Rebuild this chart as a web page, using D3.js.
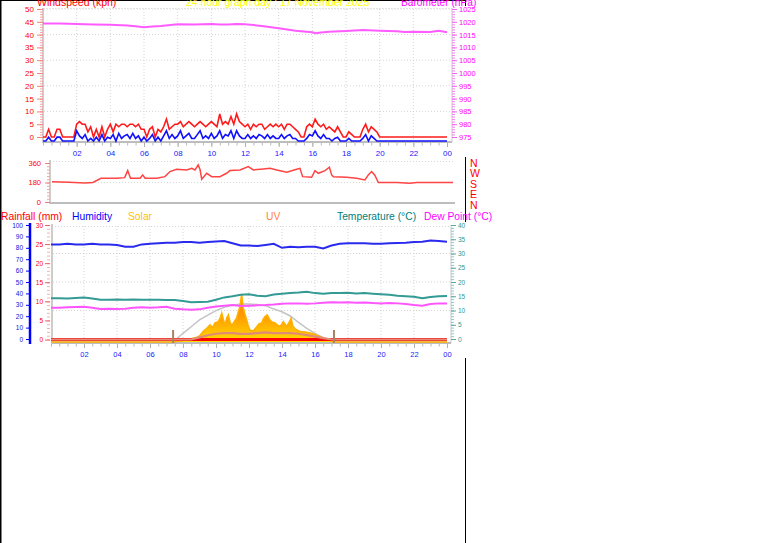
<!DOCTYPE html>
<html><head><meta charset="utf-8">
<script src="https://cdn.jsdelivr.net/npm/d3@7"></script>
<style>body{margin:0;background:#fff;} svg{display:block;font-family:"Liberation Sans",Arial,sans-serif;}</style>
</head><body><svg id="c" width="761" height="543"></svg>
<script>
// ---------- DATA ----------
const tickHours = [2,4,6,8,10,12,14,16,18,20,22,24];
const tickLabels = ["02","04","06","08","10","12","14","16","18","20","22","00"];

// wind gust (kph), 10-minute samples from 00:00 to 24:00
const gust = [
 0,0,3,0,0,3, 3,0,0,0,0,0, 5,6,5,5,2,4, 0,3,0,4,0,3, 5,2,5,4,5,5, 4,5,5,4,5,3,
 3,0,3,4,0,3, 2,4,7,3,4,5, 5,6,4,5,6,5, 4,5,6,5,4,5, 6,5,4,9,5,6, 5,8,5,9,6,5,
 4,5,3,5,4,5, 5,3,4,5,4,5, 4,5,3,5,5,4, 3,2,0,0,4,5, 4,7,5,4,5,3, 4,3,2,4,2,0,
 0,2,1,0,0,0, 3,5,2,4,3,2, 0,0,0,0,0,0, 0,0,0,0,0,0, 0,0,0,0,0,0, 0,0,0,0,0,0, 0];
// average wind (kph), 10-minute samples
const avgWind = [
 0,0,1.5,0,0,1.5, 1.5,0,0,0,0,0, 4,2,1,2.5,0,1, 0,1.5,0,2.5,0,1.5, 1,2.5,0,3,1,2, 2.5,1,3,1,2,0,
 1.5,0,1,2.5,0,1.5, 0,2,4,1,2.5,1, 2,4,1,2,3,1, 1,2.5,4,1,2,1, 3,1,2,4,1,2.5, 2,4,1,4,2,1,
 1,2.5,1,2,1,2.5, 2,1,2.5,1,2,1, 1,2.5,1,2,2.5,1, 1,0,0,0,1,2.5, 2,4,2,1,2.5,1, 1,0,1,1.5,0,0,
 0,1,0,0,0,0, 1,2.5,0,2,1,0, 0,0,0,0,0,0, 0,0,0,0,0,0, 0,0,0,0,0,0, 0,0,0,0,0,0, 0];

const baroHours = [0,1,2,3,4,5,5.5,6,6.5,7,8,9,10,10.5,11,11.5,12,13,14,15,16,16.2,16.5,17,18,19,20,21,21.5,22,23,23.5,24];
const baroVals  = [1019.3,1019.3,1019.1,1018.9,1018.8,1018.6,1018.3,1017.9,1018.2,1018.4,1019.0,1018.9,1019.1,1018.9,1018.9,1019.1,1019.0,1018.4,1017.5,1016.5,1015.9,1015.5,1015.8,1016.1,1016.4,1016.8,1016.5,1016.3,1016.0,1016.1,1016.0,1016.5,1015.9];

const dirHours = [0,1.02,1.97,2.45,2.93,3.89,4.35,4.53,4.7,5.27,5.43,5.57,6.27,6.76,7.06,7.46,8.06,8.36,8.56,8.75,8.86,8.96,9.26,9.56,10.05,10.45,10.65,11.25,11.75,12.05,12.65,13.05,13.45,14.05,14.64,14.84,15.0,15.54,15.74,15.94,16.34,16.6,16.74,16.84,17.64,18.23,18.73,18.93,19.13,19.33,19.53,20.63,21.42,21.83,24];
const dirVals  = [187,182,176,180,219,219,225,290,219,219,250,219,219,234,281,302,296,311,296,342,300,210,265,234,234,265,290,296,327,296,305,311,296,274,302,311,234,228,290,265,290,321,250,234,228,219,204,250,281,245,179,179,173,179,179];

const halfHours = d3.range(0, 24.01, 0.5);
const humidity = [83,83,83.5,83,83,83.5,83,83,82.5,81,81,83,83.5,84,84.5,84.5,85,85,84.5,85,85.5,86,84,82,82,81.5,82.5,83.5,80,81,80.5,81,81,79.5,82,83.5,84,84,84,83.5,83.5,84,84.2,84.5,85,85.4,86.5,86,85.4];
const temperature = [14.3,14.3,14.2,14.4,14.6,14.2,13.8,13.8,13.9,13.8,13.9,13.8,13.8,13.8,13.7,13.7,13.3,12.9,13.0,13.1,13.8,14.6,15.0,15.5,15.7,15.2,15.0,15.6,15.9,16.1,16.3,16.6,16.1,15.9,16.1,16.1,16.2,16.0,16.1,15.9,15.7,15.5,15.2,15.0,14.8,14.3,14.7,15.0,15.1];
const dewPoint = [11.0,11.0,11.1,11.2,11.3,11.0,10.5,10.6,10.5,10.6,11.0,11.1,11.0,11.1,11.3,10.6,10.4,10.3,10.4,11.0,11.4,11.7,11.9,11.6,11.7,11.8,11.9,12.1,12.4,12.5,12.5,12.4,12.5,12.7,12.9,12.8,12.9,12.7,12.8,12.6,12.5,12.6,12.5,12.3,11.9,11.7,12.3,12.5,12.5];
const rainfall = [0,0];
const rainHours = [0,24];

const solarHours = [0,7.4,8.0,8.4,8.8,9.0,9.23,9.4,9.64,9.8,9.94,10.14,10.25,10.35,10.45,10.55,10.65,10.75,10.85,10.95,11.1,11.25,11.35,11.45,11.56,11.6,11.65,11.75,11.86,11.95,12.06,12.26,12.47,12.6,12.77,12.87,12.97,13.1,13.27,13.4,13.58,13.72,13.88,14.0,14.08,14.18,14.28,14.45,14.55,14.65,14.8,15.09,15.4,15.7,16.0,16.3,16.6,16.8,17.09,24];
const solarVals  = [0,0,15,30,45,62,110,135,176,150,197,210,248,297,228,176,248,279,207,166,207,248,310,365,497,414,352,290,228,166,124,114,158,186,197,238,262,279,228,207,197,176,158,186,210,186,158,207,245,166,134,107,103,93,78,55,36,28,0,0];
const solarMaxHours = [0,7.4,8.0,8.5,9.0,9.5,10,10.5,11,11.5,12,12.5,13,13.5,14,14.5,15,15.5,16,16.5,17,17.1,24];
const solarMaxVals  = [0,0,90,158,228,279,324,359,380,393,393,388,376,341,313,269,204,142,90,44,10,0,0];
const uvHours = [0,8.5,9.0,9.5,10,10.5,11,11.5,12,12.5,13,13.5,14,14.5,15,15.5,16,16.5,17,24];
const uvVals  = [0,0,0.3,0.6,0.8,0.9,0.9,0.8,0.8,0.9,1.0,0.9,0.9,0.9,0.8,0.6,0.4,0.2,0,0];
const sunEvents = [7.4, 17.15];

const compass = ["N","W","S","E","N"];
const legend = [
  {t:"Rainfall (mm)", c:"#ff0000", x:1},
  {t:"Humidity", c:"#0000ff", x:72},
  {t:"Solar", c:"#ffc000", x:128},
  {t:"UV", c:"#ff8040", x:266},
  {t:"Temperature (°C)", c:"#008080", x:337},
  {t:"Dew Point (°C)", c:"#ff00ff", x:424}
];

// ---------- DRAW ----------
const svg = d3.select("#c");
function ln(g,x1,y1,x2,y2,c,w,dash){
  const l = g.append("line").attr("x1",x1).attr("y1",y1).attr("x2",x2).attr("y2",y2).attr("stroke",c).attr("stroke-width",w||1);
  if(dash) l.attr("stroke-dasharray",dash);
  return l;
}
function axis(g, gen, scale, values, size, pad, fmt, tickColor, textColor, fs){
  const a = gen(scale).tickValues(values).tickSize(size).tickPadding(pad).tickFormat(fmt);
  g.call(a);
  g.select(".domain").remove();
  g.selectAll(".tick line").attr("stroke", tickColor);
  g.selectAll(".tick text").attr("fill", textColor).style("font-size", fs).style("font-family","Liberation Sans, Arial, sans-serif");
}
const noLab = () => "";
const grid = "#d4d4d4", frame = "#bdbdbd";

// outer frame lines
ln(svg,0.75,0,0.75,543,"#000",1.5);
ln(svg,465.5,0,465.5,543,"#000",1);
ln(svg,0,0.5,466,0.5,"#000",1);
// chart image backgrounds
svg.append("rect").attr("x",2).attr("y",6).attr("width",478).attr("height",151).attr("fill","#fff");
svg.append("rect").attr("x",2).attr("y",222).attr("width",478).attr("height",136).attr("fill","#fff");

// ===== TOP CHART =====
const xT = d3.scaleLinear([0,24],[43,447]);
const yW = d3.scaleLinear([0,50],[137,9]);
const yA = d3.scaleLinear([0,50],[141,13]);
const yB = d3.scaleLinear([975,1025],[137,9]);
const topG = svg.append("g");
tickHours.slice(0,-1).forEach(h=>ln(topG,xT(h),9,xT(h),141,grid,1,"1,2"));
d3.range(10,51,10).forEach(v=>ln(topG,44,yW(v),451,yW(v),grid,1,"1,2"));
ln(topG,43,8.5,452,8.5,"#dcdcdc",1,"1,2");
ln(topG,452,8,452,142,"#c8c8c8",1);
ln(topG,43,8,43,143,frame,1.5);
ln(topG,43,142,452,142,frame,2);
axis(topG.append("g").attr("transform","translate(43,0)"), d3.axisLeft, yW, d3.range(0,51,1), 3, 0, noLab, "#f5a3a3", "#f00", "8px");
axis(topG.append("g").attr("transform","translate(43,0)"), d3.axisLeft, yW, d3.range(0,51,5), 6, 3, d3.format("d"), "#f08080", "#ff0000", "8px");
axis(topG.append("g").attr("transform","translate(452,0)"), d3.axisRight, yB, d3.range(975,1026,1), 3, 0, noLab, "#f080f0", "#f0f", "7.5px");
axis(topG.append("g").attr("transform","translate(452,0)"), d3.axisRight, yB, d3.range(975,1026,5), 5, 2, d3.format("d"), "#ee66ee", "#ff00ff", "7.5px");
axis(topG.append("g").attr("transform","translate(0,143)"), d3.axisBottom, xT, halfHours, 2.5, 0, noLab, "#b8b8b8", "#00f", "8px");
axis(topG.append("g").attr("transform","translate(0,143)"), d3.axisBottom, xT, tickHours, 4, 3, (d,i)=>tickLabels[i], "#b0b0b0", "#2020ff", "8px");

topG.append("path").datum(baroHours.map((h,i)=>[h,baroVals[i]]))
  .attr("fill","none").attr("stroke","#ff5cff").attr("stroke-width",2)
  .attr("d", d3.line().x(d=>xT(d[0])).y(d=>yB(d[1])));
topG.append("path").datum(gust)
  .attr("fill","none").attr("stroke","#ff1a1a").attr("stroke-width",1.6)
  .attr("d", d3.line().x((d,i)=>xT(i/6)).y(d=>yW(d)));
topG.append("path").datum(avgWind)
  .attr("fill","none").attr("stroke","#1010ff").attr("stroke-width",1.6)
  .attr("d", d3.line().x((d,i)=>xT(i/6)).y(d=>yA(d)));

// titles
const tfs = "10.5px";
svg.append("text").attr("x",37).attr("y",5.5).attr("fill","#ff0000").style("font-size",tfs).text("Windspeed (kph)");
svg.append("text").attr("x",186).attr("y",5.5).attr("fill","#ffff00").style("font-size",tfs).text("24 hour graph day : 17 November 2025");
svg.append("text").attr("x",401).attr("y",5.5).attr("fill","#ff00ff").style("font-size","10.2px").text("Barometer (hPa)");

// ===== MIDDLE CHART =====
const xM = d3.scaleLinear([0,24],[52,453]);
const yD = d3.scaleLinear([0,360],[202,163]);
const midG = svg.append("g");
ln(midG,50,161.5,455,161.5,"#d8d8d8",1,"1,2");
ln(midG,50,yD(180),455,yD(180),"#d8d8d8",1,"1,2");
ln(midG,50,203,455,203,frame,2);
ln(midG,50,160,50,204,frame,1.5);
axis(midG.append("g").attr("transform","translate(50,0)"), d3.axisLeft, yD, d3.range(0,361,30), 3, 0, noLab, "#f5a3a3", "#f00", "7.5px");
axis(midG.append("g").attr("transform","translate(50,0)"), d3.axisLeft, yD, [0,180,360], 5, 4, d3.format("d"), "#f08080", "#ff0000", "7.5px");
midG.append("path").datum(dirHours.map((h,i)=>[h,dirVals[i]]))
  .attr("fill","none").attr("stroke","#ff4444").attr("stroke-width",1.5)
  .attr("d", d3.line().x(d=>xM(d[0])).y(d=>yD(d[1])));
compass.forEach((c,i)=>svg.append("text").attr("x",470).attr("y",167+i*10.4).attr("fill","#ff0000").style("font-size","10.5px").text(c));

// legend
legend.forEach(l=>svg.append("text").attr("x",l.x).attr("y",219.5).attr("fill",l.c).style("font-size","10.3px").text(l.t));

// ===== BOTTOM CHART =====
const xBt = d3.scaleLinear([0,24],[51,447]);
const yH = d3.scaleLinear([0,100],[339,225]);
const yR = d3.scaleLinear([0,30],[339.5,225]);
const yTm = d3.scaleLinear([0,40],[339,225]);
const yS = d3.scaleLinear([0,1200],[342,226]);
const yU = d3.scaleLinear([0,16],[339.5,225]);
const botG = svg.append("g");
tickHours.slice(0,-1).forEach(h=>ln(botG,xBt(h),226,xBt(h),342,grid,1,"1,2"));
[10,20,30].forEach(v=>ln(botG,53,yTm(v),450,yTm(v),grid,1,"1,2"));
ln(botG,52,226.5,451,226.5,"#d8d8d8",1,"1,2");
ln(botG,451,225,451,343,"#c8c8c8",1);
ln(botG,52,224,52,344,frame,1.5);
ln(botG,52,343,451,343,frame,2);
// humidity axis
ln(botG,30,223,30,344,"#0000ff",2.5);
axis(botG.append("g").attr("transform","translate(30,0)"), d3.axisLeft, yH, d3.range(0,101,10), 4, 3, d3.format("d"), "#0000ff", "#1010e0", "6.5px");
// rainfall axis
axis(botG.append("g").attr("transform","translate(50,0)"), d3.axisLeft, yR, d3.range(0,31,1), 3, 0, noLab, "#f7b0b0", "#f00", "6.5px");
axis(botG.append("g").attr("transform","translate(50,0)"), d3.axisLeft, yR, d3.range(0,31,5), 5, 2, d3.format("d"), "#f06060", "#ff0000", "6.5px");
// temperature axis
axis(botG.append("g").attr("transform","translate(451,0)"), d3.axisRight, yTm, d3.range(0,41,1), 3, 0, noLab, "#8cc8c4", "#088", "6.5px");
axis(botG.append("g").attr("transform","translate(451,0)"), d3.axisRight, yTm, d3.range(0,41,5), 5, 2, d3.format("d"), "#55aaa5", "#2a9a94", "6.5px");
// x axis
axis(botG.append("g").attr("transform","translate(0,344)"), d3.axisBottom, xBt, halfHours, 2.5, 0, noLab, "#b8b8b8", "#00f", "7.5px");
axis(botG.append("g").attr("transform","translate(0,344)"), d3.axisBottom, xBt, tickHours, 4, 4, (d,i)=>tickLabels[i], "#b0b0b0", "#2020ff", "7.5px");

// solar gradient
const defs = svg.append("defs");
const grad = defs.append("linearGradient").attr("id","sg").attr("x1",0).attr("x2",0)
  .attr("gradientUnits","userSpaceOnUse").attr("y1",295).attr("y2",342);
grad.append("stop").attr("offset","0%").attr("stop-color","#ff7a00");
grad.append("stop").attr("offset","45%").attr("stop-color","#ff9c00");
grad.append("stop").attr("offset","80%").attr("stop-color","#ffc400");
grad.append("stop").attr("offset","100%").attr("stop-color","#ffe000");

// theoretical max solar
botG.append("path").datum(solarMaxHours.map((h,i)=>[h,solarMaxVals[i]]))
  .attr("fill","none").attr("stroke","#c4c4c4").attr("stroke-width",1.5)
  .attr("d", d3.line().x(d=>xBt(d[0])).y(d=>yS(d[1])));
const solarData = solarHours.map((h,i)=>[h,solarVals[i]]);
botG.append("path").datum(solarData).attr("fill","url(#sg)")
  .attr("d", d3.area().x(d=>xBt(d[0])).y0(yS(0)).y1(d=>yS(d[1])));
botG.append("path").datum(solarData).attr("fill","none").attr("stroke","#ffb000").attr("stroke-width",1.6)
  .attr("d", d3.line().x(d=>xBt(d[0])).y(d=>yS(d[1])));
// rainfall
botG.append("path").datum(rainHours.map((h,i)=>[h,rainfall[i]]))
  .attr("fill","none").attr("stroke","#ff0000").attr("stroke-width",3)
  .attr("d", d3.line().x(d=>xBt(d[0])).y(d=>yR(d[1])));
// UV
botG.append("path").datum(uvHours.map((h,i)=>[h,uvVals[i]]))
  .attr("fill","none").attr("stroke","#e08a78").attr("stroke-width",2.2)
  .attr("d", d3.line().x(d=>xBt(d[0])).y(d=>yU(d[1])));
// sunrise / sunset markers
sunEvents.forEach(h=>ln(botG,xBt(h),330,xBt(h),343,"#a88462",2));
// temperature, dew point, humidity
function series(vals,scale,color){
  botG.append("path").datum(vals).attr("fill","none").attr("stroke",color).attr("stroke-width",2)
    .attr("d", d3.line().x((d,i)=>xBt(halfHours[i])).y(d=>scale(d)));
}
series(dewPoint, yTm, "#ff55ff");
series(temperature, yTm, "#339a94");
series(humidity, yH, "#2a2aee");
</script></body></html>
